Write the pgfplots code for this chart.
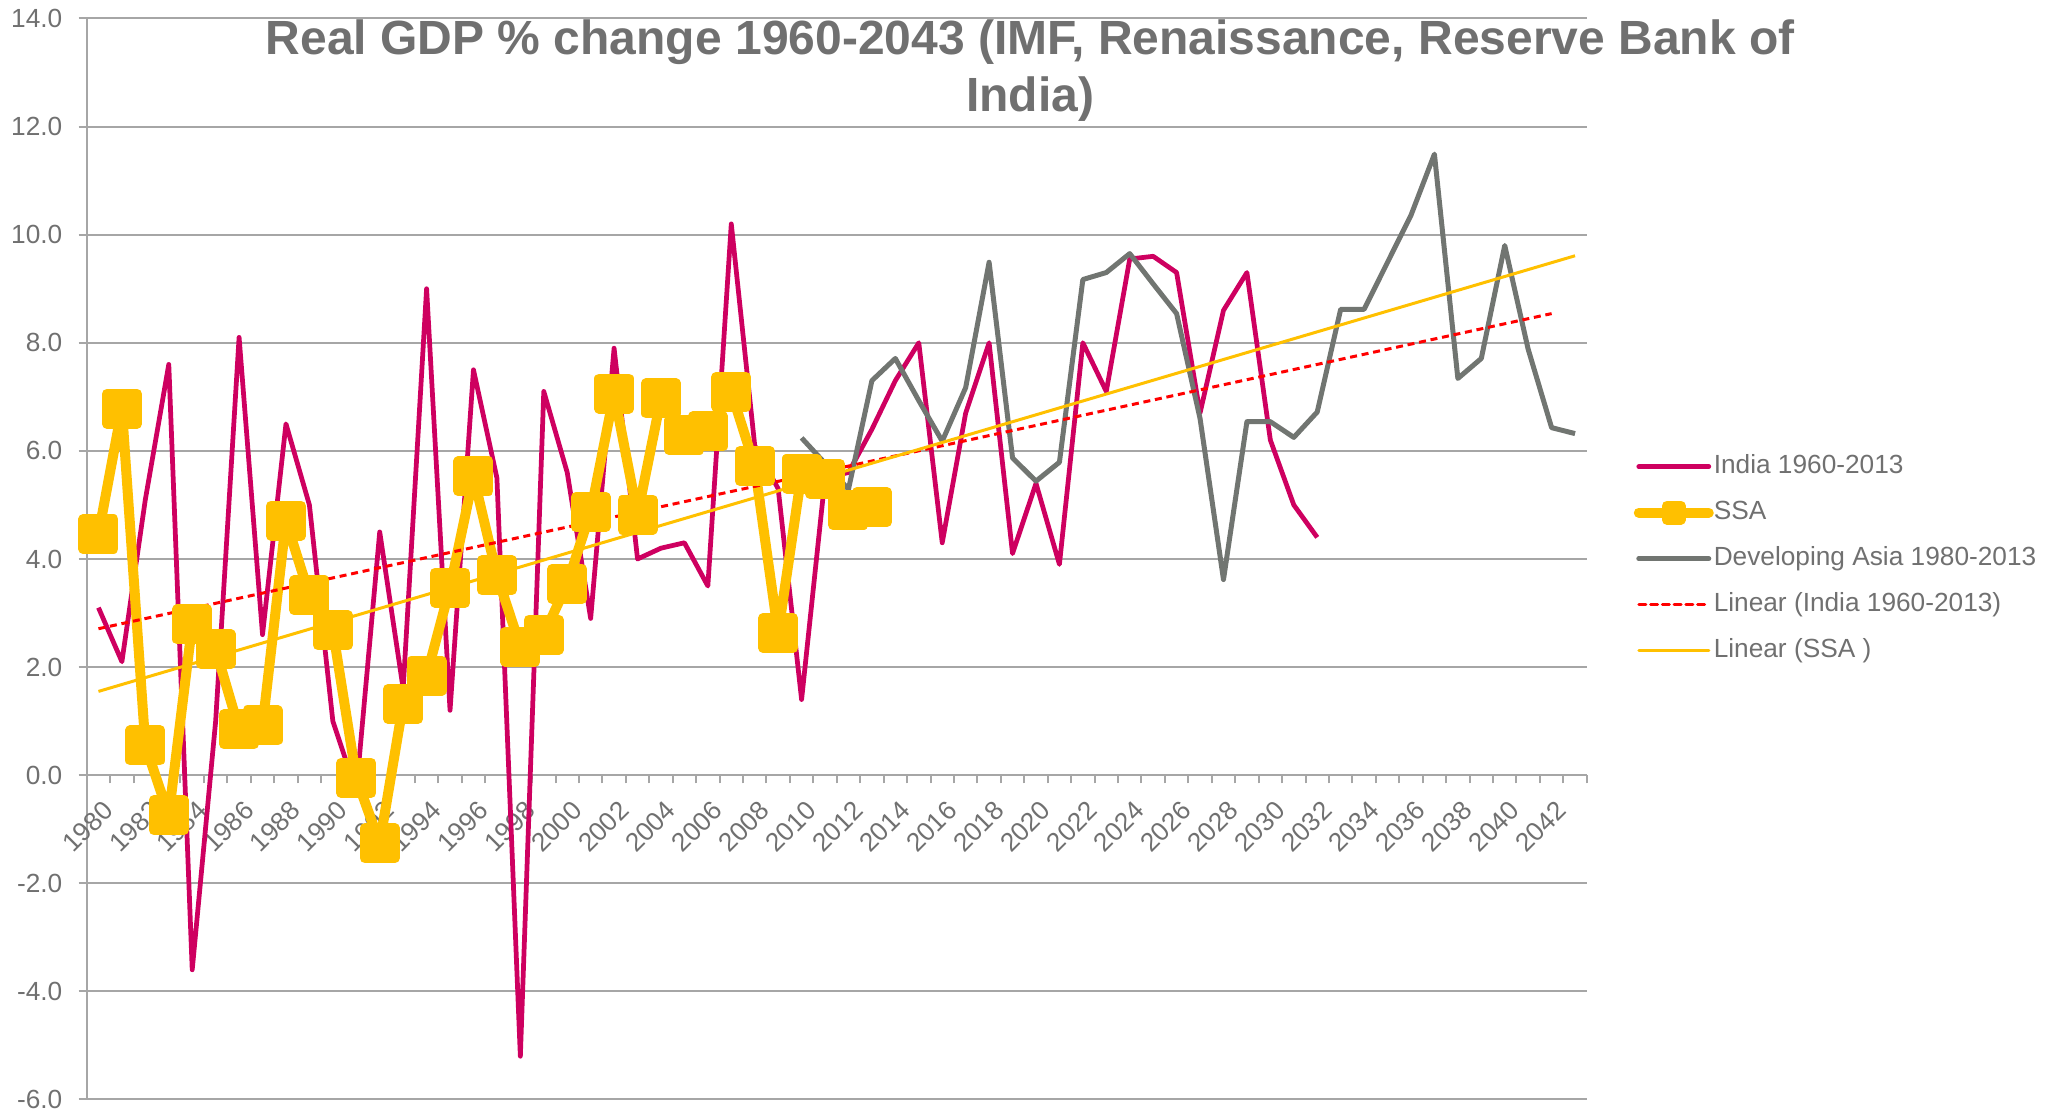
\documentclass[border=0pt]{standalone}
\usepackage{graphicx}
\usepackage{pgfplots}
\pgfplotsset{compat=1.18}
\usepackage{fontspec}
\setmainfont{Liberation Sans}
\definecolor{cInd}{RGB}{206,0,96}
\definecolor{cSSA}{RGB}{255,192,0}
\definecolor{cAsia}{RGB}{113,117,113}
\definecolor{cTxt}{RGB}{112,112,112}
\definecolor{cGrid}{RGB}{166,166,166}
\newcommand{\lblfont}{\fontsize{10.5}{12.6}\selectfont}
\newcommand{\rl}[1]{\rotatebox{45}{#1}}

\begin{document}
\begin{tikzpicture}
\useasboundingbox (-34.7pt,-3.7pt) rectangle (791.3pt,439.8pt);
\begin{axis}[
  at={(0,0)}, anchor=south west,
  scale only axis, width=600pt, height=432.4pt,
  xmin=1979.5, xmax=2043.5, ymin=-6, ymax=14,
  axis x line=middle, axis y line=left,
  axis line style={-, draw=cGrid, line width=0.8pt},
  hide obscured x ticks=false, hide obscured y ticks=false,
  ytick={-6,-4,...,14},
  yticklabels={-6.0,-4.0,-2.0,0.0,2.0,4.0,6.0,8.0,10.0,12.0,14.0},
  minor ytick={-6,-4,...,14},
  xtick={1980,1982,...,2042},
  xticklabels={\rl{1980},\rl{1982},\rl{1984},\rl{1986},\rl{1988},\rl{1990},\rl{1992},\rl{1994},
    \rl{1996},\rl{1998},\rl{2000},\rl{2002},\rl{2004},\rl{2006},\rl{2008},\rl{2010},
    \rl{2012},\rl{2014},\rl{2016},\rl{2018},\rl{2020},\rl{2022},\rl{2024},\rl{2026},
    \rl{2028},\rl{2030},\rl{2032},\rl{2034},\rl{2036},\rl{2038},\rl{2040},\rl{2042}},
  minor xtick={1979.5,1980.5,...,2043.5},
  major tick length=0pt, minor tick length=3.3pt, tick align=outside,
  tick style={draw=cGrid, line width=0.8pt},
  ymajorgrids, grid style={draw=cGrid, line width=0.8pt},
  tick label style={font=\lblfont, text=cTxt},
  yticklabel style={inner sep=0pt, xshift=-9.6pt},
  xticklabel style={inner sep=0pt, anchor=north east, xshift=6.8pt, yshift=-9.6pt},
  clip=false,
  line join=round,
  legend style={at={(1.031,0.598)}, anchor=north west, draw=none, fill=none,
    inner sep=0pt, font=\lblfont, text=cTxt, row sep=7.9pt, cells={anchor=west},
    nodes={inner sep=0pt, text height=8pt, text depth=2.5pt},
    /tikz/every odd column/.append style={column sep=0pt}},
  legend image code/.code={\draw[mark repeat=2,mark phase=2,line cap=round,#1]
    plot coordinates {(0pt,0pt) (14pt,0pt) (28pt,0pt)};},
]
% India 1960-2013 (plotted from 1980)
\addplot[forget plot, cInd, line width=1.9pt] coordinates {
(1980,3.1)(1981,2.1)(1982,5.1)(1983,7.6)(1984,-3.6)(1985,1.0)(1986,8.1)(1987,2.6)
(1988,6.5)(1989,5.0)(1990,1.0)(1991,-0.3)(1992,4.5)(1993,1.6)(1994,9.0)(1995,1.2)
(1996,7.5)(1997,5.5)(1998,-5.2)(1999,7.1)(2000,5.6)(2001,2.9)(2002,7.9)(2003,4.0)
(2004,4.2)(2005,4.3)(2006,3.5)(2007,10.2)(2008,6.1)(2009,5.3)(2010,1.4)(2011,5.5)
(2012,5.6)(2013,6.4)(2014,7.3)(2015,8.0)(2016,4.3)(2017,6.7)(2018,8.0)(2019,4.1)
(2020,5.4)(2021,3.9)(2022,8.0)(2023,7.1)(2024,9.55)(2025,9.6)(2026,9.3)(2027,6.7)
(2028,8.6)(2029,9.3)(2030,6.2)(2031,5.0)(2032,4.4)};
% SSA
\addplot[forget plot, cSSA, line width=4pt, mark=square*, mark size=6pt,
  mark options={solid, draw=none, fill=cSSA}] coordinates {
(1980,4.46)(1981,6.78)(1982,0.55)(1983,-0.74)(1984,2.79)(1985,2.33)(1986,0.85)(1987,0.92)
(1988,4.71)(1989,3.33)(1990,2.68)(1991,-0.05)(1992,-1.26)(1993,1.32)(1994,1.84)(1995,3.47)
(1996,5.53)(1997,3.70)(1998,2.38)(1999,2.60)(2000,3.54)(2001,4.87)(2002,7.06)(2003,4.82)
(2004,6.97)(2005,6.29)(2006,6.36)(2007,7.09)(2008,5.72)(2009,2.63)(2010,5.58)(2011,5.48)
(2012,4.90)(2013,4.96)};
% Developing Asia 1980-2013 (plotted from 2010)
\addplot[forget plot, cAsia, line width=2pt] coordinates {
(2010,6.24)(2011,5.77)(2012,5.29)(2013,7.30)(2014,7.71)(2015,6.93)(2016,6.18)(2017,7.17)
(2018,9.49)(2019,5.87)(2020,5.44)(2021,5.79)(2022,9.17)(2023,9.30)(2024,9.65)(2025,9.09)
(2026,8.54)(2027,6.60)(2028,3.62)(2029,6.54)(2030,6.54)(2031,6.25)(2032,6.72)(2033,8.62)
(2034,8.62)(2035,9.49)(2036,10.36)(2037,11.49)(2038,7.34)(2039,7.71)(2040,9.80)(2041,7.88)
(2042,6.43)(2043,6.32)};
% trend lines
\addplot[forget plot, red, line width=1.2pt, dash pattern=on 2.8pt off 1.9pt] coordinates {
(1980,2.71)(2042,8.54)};
\addplot[forget plot, cSSA, line width=1.2pt] coordinates {
(1980,1.55)(2043,9.61)};

\addlegendimage{cInd, line width=1.9pt}
\addlegendentry{India 1960-2013}
\addlegendimage{cSSA, line width=4pt, mark=square*, mark size=2.8pt, mark options={solid, draw=none, fill=cSSA}}
\addlegendentry{SSA}
\addlegendimage{cAsia, line width=2pt}
\addlegendentry{Developing Asia 1980-2013}
\addlegendimage{red, line width=1.2pt, dash pattern=on 2.8pt off 1.9pt}
\addlegendentry{Linear (India 1960-2013)}
\addlegendimage{cSSA, line width=1.2pt}
\addlegendentry{Linear (SSA )}

\node[font=\fontsize{19.2}{23}\selectfont\bfseries, text=cTxt, align=center]
  at (rel axis cs:0.629,0.952)
  {Real GDP \% change 1960-2043 (IMF, Renaissance, Reserve Bank of\\India)};
\end{axis}
\end{tikzpicture}
\end{document}
